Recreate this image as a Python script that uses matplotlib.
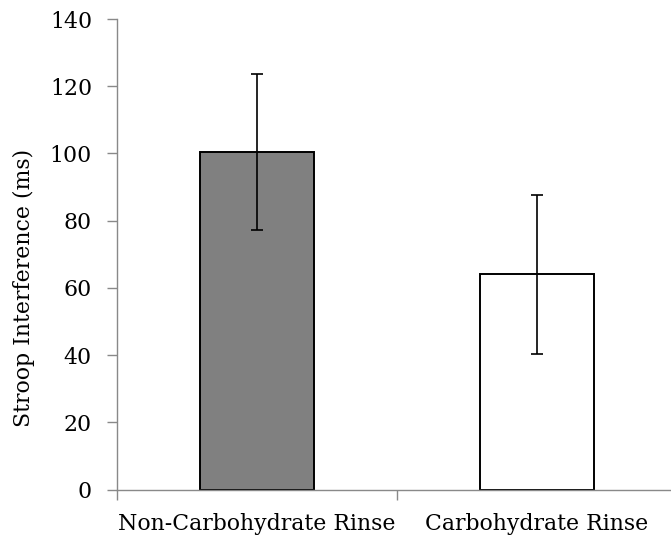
import numpy as np
import matplotlib
matplotlib.use("Agg")
import matplotlib.pyplot as plt

# Data
categories = ["Non-Carbohydrate Rinse", "Carbohydrate Rinse"]
means = [100.5, 64.0]
errors = [23.2, 23.7]
colors = ["#808080", "#ffffff"]

plt.rcParams['font.family'] = ['DejaVu Serif']

fig = plt.figure(figsize=(6.71, 5.41), dpi=100)
ax = fig.add_axes([117 / 671, 51.5 / 541, 560 / 671, 470.5 / 541])

x = np.arange(len(categories))
ax.bar(x, means, width=0.405, color=colors, edgecolor="black", linewidth=1.4, zorder=2)
ax.errorbar(x, means, yerr=errors, fmt="none", ecolor="black", elinewidth=1.2,
            capsize=4.6, capthick=1.2, zorder=3)

ax.set_xlim(-0.5, 1.5)
ax.set_ylim(0, 140)
ax.set_yticks(np.arange(0, 141, 20))
ax.set_xticks(x)
ax.set_xticklabels(categories)
ax.set_xticks([-0.5, 0.5, 1.5], minor=True)
ax.tick_params(axis="x", which="major", length=0, pad=17, labelsize=15.8)
ax.tick_params(axis="x", which="minor", length=7, width=1, color="#898989")
ax.tick_params(axis="y", length=7, width=1, color="#898989", labelsize=15.8, pad=11)

for side in ["top", "right"]:
    ax.spines[side].set_visible(False)
for side in ["left", "bottom"]:
    ax.spines[side].set_color("#898989")
    ax.spines[side].set_linewidth(1)

ax.set_ylabel("Stroop Interference (ms)", fontsize=15.8)
ax.yaxis.set_label_coords(-0.147, 0.429)

fig.savefig("out.png", dpi=100)
